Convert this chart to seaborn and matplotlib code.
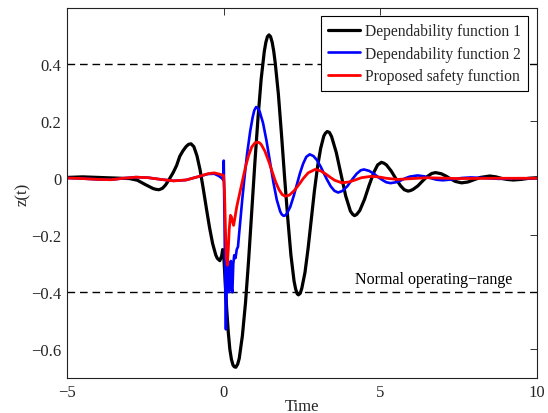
import numpy as np
import pandas as pd
import matplotlib
matplotlib.use("Agg")
import matplotlib.pyplot as plt
import seaborn as sns

# ---------------- data ----------------
t_dep1 = [-5, -4.5, -4, -3.5, -3, -2.75, -2.5, -2.25, -2.15, -2.06, -1.95, -1.85, -1.75, -1.61,
          -1.5, -1.4, -1.3, -1.2, -1.12, -1.04, -0.95, -0.85, -0.75, -0.65, -0.55, -0.45, -0.35,
          -0.25, -0.2, -0.12, -0.06, -0.03, 0.0, 0.05, 0.1, 0.15, 0.2, 0.25, 0.3, 0.34, 0.39,
          0.45, 0.5, 0.6, 0.7, 0.8, 0.9, 1.0, 1.1, 1.2, 1.3, 1.35, 1.4, 1.45, 1.5, 1.55, 1.6,
          1.65, 1.75, 1.85, 1.95, 2.05, 2.15, 2.25, 2.3, 2.35, 2.39, 2.45, 2.5, 2.6, 2.7, 2.8,
          2.9, 3.0, 3.1, 3.2, 3.25, 3.31, 3.38, 3.45, 3.6, 3.75, 3.9, 4.05, 4.12, 4.18, 4.25,
          4.35, 4.5, 4.65, 4.8, 4.92, 5.04, 5.12, 5.2, 5.35, 5.5, 5.65, 5.77, 5.89, 5.97, 6.05,
          6.2, 6.35, 6.5, 6.65, 6.77, 6.95, 7.1, 7.25, 7.4, 7.6, 7.8, 8.0, 8.2, 8.5, 8.7, 8.9,
          9.05, 9.25, 9.5, 9.75, 10]
z_dep1 = [0.003, 0.005, 0.003, 0.001, -0.001, -0.007, -0.022, -0.036, -0.039, -0.040, -0.035,
          -0.023, -0.006, 0.020, 0.045, 0.077, 0.096, 0.111, 0.119, 0.121, 0.111, 0.079, 0.029,
          -0.036, -0.105, -0.172, -0.229, -0.269, -0.281, -0.289, -0.272, -0.250, -0.262,
          -0.360, -0.460, -0.540, -0.600, -0.635, -0.655, -0.661, -0.663, -0.652, -0.632,
          -0.553, -0.437, -0.286, -0.115, 0.056, 0.213, 0.348, 0.445, 0.477, 0.497, 0.503,
          0.497, 0.478, 0.447, 0.404, 0.295, 0.153, 0.001, -0.141, -0.269, -0.360, -0.388,
          -0.405, -0.409, -0.403, -0.385, -0.330, -0.245, -0.145, -0.045, 0.040, 0.105, 0.148,
          0.158, 0.164, 0.161, 0.146, 0.090, 0.014, -0.062, -0.115, -0.126, -0.131, -0.127,
          -0.113, -0.074, -0.024, 0.021, 0.047, 0.056, 0.053, 0.047, 0.026, -0.001, -0.026,
          -0.040, -0.045, -0.043, -0.039, -0.027, -0.010, 0.006, 0.017, 0.020, 0.016, 0.008,
          -0.002, -0.011, -0.016, -0.013, -0.005, 0.003, 0.008, 0.005, -0.001, -0.004, -0.006,
          -0.004, 0.0, 0.002]

t_dep2 = [-5, -4.5, -4, -3.6, -3.2, -2.8, -2.4, -2.0, -1.6, -1.2, -0.8, -0.5, -0.3, -0.15, -0.05,
          -0.01, 0.005, 0.03, 0.055, 0.075, 0.09, 0.11, 0.13, 0.15, 0.17, 0.19, 0.21, 0.23, 0.25,
          0.28, 0.31, 0.34, 0.38, 0.42, 0.46, 0.5, 0.55, 0.6, 0.665, 0.75, 0.85, 0.93, 0.98,
          1.04, 1.1, 1.15, 1.26, 1.37, 1.48, 1.59, 1.70, 1.81, 1.86, 1.92, 1.97, 2.02, 2.13,
          2.24, 2.34, 2.44, 2.54, 2.64, 2.75, 2.87, 2.98, 3.1, 3.2, 3.3, 3.42, 3.54, 3.66, 3.8,
          3.95, 4.1, 4.25, 4.38, 4.48, 4.65, 4.8, 4.95, 5.1, 5.2, 5.33, 5.5, 5.65, 5.8, 5.95,
          6.2, 6.4, 6.6, 6.8, 7.0, 7.3, 7.6, 7.9, 8.3, 8.8, 9.4, 10]
z_dep2 = [0.001, -0.001, -0.004, -0.005, 0.0, 0.004, 0.002, -0.004, -0.009, -0.006, 0.006, 0.015,
          0.016, 0.008, 0.0, -0.006, 0.062, -0.15, -0.40, -0.53, -0.42, -0.30, -0.37, -0.31,
          -0.40, -0.33, -0.39, -0.29, -0.38, -0.40, -0.30, -0.27, -0.28, -0.25, -0.24, -0.19,
          -0.13, -0.07, 0.0, 0.085, 0.165, 0.215, 0.238, 0.25, 0.245, 0.235, 0.194, 0.132,
          0.059, -0.014, -0.076, -0.117, -0.127, -0.132, -0.130, -0.124, -0.100, -0.062,
          -0.022, 0.018, 0.051, 0.075, 0.084, 0.078, 0.064, 0.041, 0.018, -0.004, -0.028,
          -0.044, -0.050, -0.044, -0.028, -0.005, 0.016, 0.028, 0.031, 0.026, 0.016, 0.003,
          -0.008, -0.014, -0.017, -0.014, -0.008, 0.0, 0.006, 0.010, 0.007, 0.001, -0.005,
          -0.007, -0.004, 0.001, 0.003, 0.001, -0.002, 0.0, 0.0]

t_safe = [-5, -4.5, -4, -3.6, -3.2, -2.8, -2.4, -2.0, -1.6, -1.2, -0.8, -0.5, -0.3, -0.15, -0.05,
          0.0, 0.03, 0.06, 0.09, 0.12, 0.15, 0.18, 0.22, 0.25, 0.28, 0.32, 0.36, 0.42, 0.5, 0.6,
          0.7, 0.8, 0.9, 1.0, 1.08, 1.14, 1.2, 1.32, 1.44, 1.55, 1.66, 1.77, 1.87, 1.97, 2.1,
          2.25, 2.4, 2.55, 2.7, 2.92, 3.1, 3.25, 3.4, 3.55, 3.78, 4.0, 4.2, 4.4, 4.72, 5.0, 5.2,
          5.55, 6.5, 7.5, 8.5, 10]
z_safe = [0.001, -0.001, -0.004, -0.005, 0.0, 0.004, 0.002, -0.004, -0.009, -0.006, 0.006, 0.016,
          0.019, 0.015, 0.012, 0.010, -0.05, -0.18, -0.28, -0.305, -0.25, -0.18, -0.13, -0.135,
          -0.15, -0.165, -0.14, -0.10, -0.06, -0.01, 0.04, 0.08, 0.11, 0.124, 0.127, 0.125,
          0.119, 0.095, 0.060, 0.024, -0.012, -0.040, -0.057, -0.063, -0.059, -0.044, -0.023,
          0.0, 0.019, 0.031, 0.026, 0.016, 0.004, -0.007, -0.016, -0.013, -0.006, 0.002, 0.007,
          0.004, 0.0, -0.004, 0.002, -0.001, 0.0, 0.0]

series_names = ["Dependability function 1", "Dependability function 2", "Proposed safety function"]
series_colors = ["#000000", "#0000ff", "#ff0000"]
thresholds = [0.4, -0.4]
annotation = "Normal operating\u2212range"
x_ticks = [-5, 0, 5, 10]
y_ticks = [-0.6, -0.4, -0.2, 0, 0.2, 0.4]
y_ticklabels = ["\u22120.6", "\u22120.4", "\u22120.2", "0", "0.2", "0.4"]
x_ticklabels = ["\u22125", "0", "5", "10"]

# ---------------- plotting ----------------
sns.set_theme(style="white")
plt.rcParams["font.family"] = ["Liberation Serif", "DejaVu Serif"]
plt.rcParams["xtick.direction"] = "in"
plt.rcParams["ytick.direction"] = "in"

fig = plt.figure(figsize=(5.48, 4.14), dpi=100)
ax = fig.add_axes([0.1223, 0.0845, 0.9794 - 0.1223, 0.9783 - 0.0845])

frames = [
    pd.DataFrame({"t": t_dep1, "z": z_dep1}),
    pd.DataFrame({"t": t_dep2, "z": z_dep2}),
    pd.DataFrame({"t": t_safe, "z": z_safe}),
]
widths = [2.3, 1.9, 2.0]
for df, name, col, lw in zip(frames, series_names, series_colors, widths):
    sns.lineplot(data=df, x="t", y="z", color=col, lw=lw, label=name, ax=ax,
                 estimator=None, sort=False)

for th in thresholds:
    ax.axhline(th, color="black", lw=1.0, ls=(0, (5.5, 3.5)), zorder=1)

ax.text(4.2, -0.352, annotation, ha="left", va="center", fontsize=11.5, color="black")

ax.set_xlim(-5, 10)
ax.set_ylim(-0.7007, 0.5975)
ax.set_xticks(x_ticks)
ax.set_xticklabels(x_ticklabels)
ax.set_yticks(y_ticks)
ax.set_yticklabels(y_ticklabels)
ax.tick_params(axis="both", which="both", labelsize=12, length=5, width=0.7,
               top=True, right=True, color="#333333", pad=4)
ax.set_xlabel("Time", fontsize=12, labelpad=-1)
ax.set_ylabel("z(t)", fontsize=12, labelpad=0.5)
for sp in ax.spines.values():
    sp.set_visible(True)
    sp.set_color("#222222")
    sp.set_linewidth(0.8)

leg = ax.legend(loc="upper right", bbox_to_anchor=(0.9815, 0.978), fontsize=11.2,
                frameon=True, fancybox=False, handlelength=2.0, handletextpad=0.35,
                borderpad=0.45, labelspacing=0.42, borderaxespad=0.0)
leg.get_frame().set_edgecolor("black")
leg.get_frame().set_linewidth(0.8)
leg.get_frame().set_alpha(1.0)

fig.savefig("out.png", dpi=100)
